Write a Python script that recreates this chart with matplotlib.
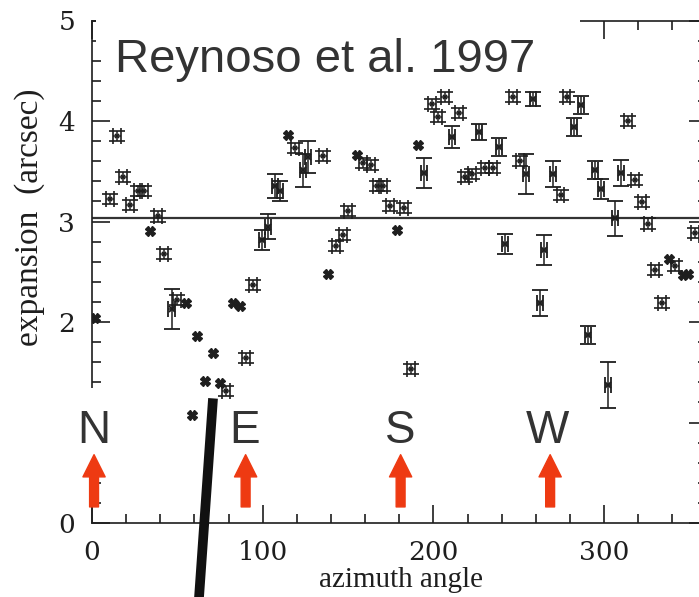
import numpy as np
import matplotlib
matplotlib.use("Agg")
import matplotlib.pyplot as plt
from matplotlib.patches import Rectangle
from matplotlib.ticker import MultipleLocator

W, H = 699, 597

# points drawn as a bold cross (no visible error)
cross_az = [2, 34.0, 54.9, 58.4, 61.7, 66.2, 70.7, 75.0, 82.8, 86.7, 115, 138.4,
            155.1, 178.5, 190.8, 338, 346, 349.3]
cross_exp = [2.04, 2.91, 2.19, 1.07, 1.86, 1.41, 1.69, 1.39, 2.19, 2.16, 3.86, 2.48,
             3.66, 2.92, 3.76, 2.63, 2.47, 2.48]

# points with small error boxes
box_az = [10.5, 14.5, 18.4, 22.3, 27.1, 30.7, 38.5, 42.2, 50.0, 78.3, 90.2, 94.3,
          118.9, 135.5, 142.9, 146.8, 150.2, 158.9, 163.4, 166.8, 170.7, 174.6, 182.8,
          186.7, 199, 202.9, 206.8, 215.2, 218.5, 222.4, 230.2, 235.1, 246.8, 250.7,
          274.5, 278, 313.8, 318.1, 322, 325.9, 329.8, 333.7, 341.5, 353.3]
box_exp = [3.22, 3.85, 3.44, 3.16, 3.30, 3.30, 3.05, 2.68, 2.22, 1.31, 1.64, 2.37,
           3.73, 3.65, 2.76, 2.87, 3.10, 3.58, 3.56, 3.35, 3.35, 3.15, 3.13,
           1.53, 4.17, 4.04, 4.24, 4.08, 3.44, 3.47, 3.53, 3.53, 4.24, 3.60,
           3.26, 4.24, 4.00, 3.41, 3.19, 2.98, 2.52, 2.19, 2.56, 2.89]

# points with larger error bars
bar_az = [46.6, 99.4, 103.3, 107.2, 110.1, 123.4, 126.3, 194.7, 210.7, 226.7, 238.6,
          241.9, 254.2, 258.5, 262.4, 265, 270.2, 282.4, 286.5, 290.4, 294.7, 298.2,
          302.5, 306.4, 309.9]
bar_exp = [2.13, 2.82, 2.95, 3.35, 3.30, 3.51, 3.64, 3.48, 3.84, 3.89, 3.74,
           2.78, 3.47, 4.22, 2.19, 2.72, 3.47, 3.94, 4.16, 1.87, 3.51, 3.32,
           1.37, 3.03, 3.48]
bar_err = [0.20, 0.10, 0.12, 0.12, 0.10, 0.165, 0.16, 0.15, 0.11, 0.08, 0.09,
           0.10, 0.20, 0.07, 0.13, 0.15, 0.13, 0.09, 0.09, 0.09, 0.09, 0.10,
           0.23, 0.17, 0.13]

mean_exp = 3.035

dir_labels = ['N', 'E', 'S', 'W']
dir_az = [1.2, 89.6, 180.8, 267.0]
arrow_az = [1.2, 90.0, 180.8, 268.4]

ink = '#1e1e1e'
red = '#ee3a12'

fig = plt.figure(figsize=(W / 100, H / 100), dpi=100)
ax = fig.add_axes([92 / W, 74 / H, 614.5 / W, 502.5 / H])
ax.set_xlim(0, 360)
ax.set_ylim(0, 5)

# data
ax.errorbar(box_az, box_exp, xerr=2.3, yerr=0.05, fmt='x', ms=3, mew=1.2,
            color=ink, ecolor=ink, elinewidth=1.1, capsize=5.5, capthick=1.5, zorder=3)
ax.errorbar(bar_az, bar_exp, xerr=1.8, yerr=bar_err, fmt='x', ms=4, mew=1.3,
            color=ink, ecolor=ink, elinewidth=1.1, capsize=5.5, capthick=1.4, zorder=3)
ax.plot(cross_az, cross_exp, 'X', ms=6.5, color=ink, mec=ink, zorder=3)

ax.axhline(mean_exp, color='#333333', lw=1.6, zorder=2)

# axes styling
for side in ['left', 'bottom', 'top', 'right']:
    ax.spines[side].set_color(ink)
    ax.spines[side].set_linewidth(1.2)
ax.xaxis.set_major_locator(MultipleLocator(100))
ax.xaxis.set_minor_locator(MultipleLocator(20))
ax.yaxis.set_major_locator(MultipleLocator(1))
ax.yaxis.set_minor_locator(MultipleLocator(0.2))
ax.tick_params(which='both', direction='in', top=True, right=True, color=ink,
               width=1.2, labelcolor=ink)
ax.tick_params(which='major', length=13)
ax.tick_params(which='minor', length=6.5)
ax.tick_params(axis='x', pad=12)
ax.tick_params(axis='y', pad=12)
for lab in ax.get_xticklabels() + ax.get_yticklabels():
    lab.set_family('DejaVu Serif')
    lab.set_fontsize(19)

fig.text(30 / W, 1 - 217 / H, 'expansion  (arcsec)', rotation=90, ha='center',
         va='center', family='Liberation Serif', fontsize=24, color=ink)
fig.text(401 / W, 1 - 580 / H, 'azimuth angle', ha='center', va='center',
         family='Liberation Serif', fontsize=21, color=ink)

# white cover boxes from the pasted labels
ax.add_patch(Rectangle((96 / W, 1 - 52 / H), 484 / W, 52 / H, transform=fig.transFigure,
                       facecolor='white', edgecolor='none', zorder=10, clip_on=False))
ax.add_patch(Rectangle((52 / W, 1 - 478 / H), 98 / W, 90 / H, transform=fig.transFigure,
                       facecolor='white', edgecolor='none', zorder=10, clip_on=False))

ax.text(115 / W, 1 - 72 / H, 'Reynoso et al. 1997', transform=fig.transFigure,
        family='Liberation Sans', fontsize=34, color='#333333', ha='left',
        va='baseline', zorder=11)

for lab, az in zip(dir_labels, dir_az):
    ax.text(az, 0.80, lab, family='Liberation Sans', fontsize=33, color='#333333',
            ha='center', va='baseline', zorder=11)
for az in arrow_az:
    ax.annotate('', xy=(az, 0.68), xytext=(az, 0.16),
                arrowprops=dict(arrowstyle='simple,head_width=1.0,head_length=1.0,tail_width=0.4',
                                mutation_scale=16, color=red, shrinkA=0, shrinkB=0),
                zorder=11)

# thick black line
ax.plot([70.9, 62.7], [1.24, -0.74], color='#111111', lw=7, clip_on=False,
        solid_capstyle='butt', zorder=12)

fig.savefig('out.png', dpi=100)
